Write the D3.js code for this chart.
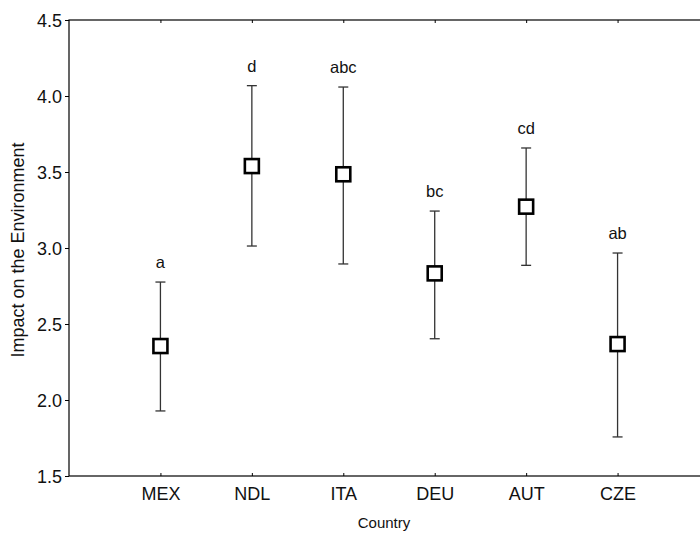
<!DOCTYPE html>
<html>
<head>
<meta charset="utf-8">
<script src="https://cdn.jsdelivr.net/npm/d3@7"></script>
<style>
  body { margin: 0; background: #fff; }
  text { font-family: "Liberation Sans", Arial, sans-serif; fill: #111; }
</style>
</head>
<body>
<div id="container"></div>
<script>
// Data
const countries = ['MEX', 'NDL', 'ITA', 'DEU', 'AUT', 'CZE'];
const means = [2.355, 3.539, 3.485, 2.833, 3.272, 2.368];
const upper = [2.776, 4.068, 4.059, 3.243, 3.658, 2.967];
const lower = [1.928, 3.013, 2.895, 2.403, 2.886, 1.757];
const letters = ['a', 'd', 'abc', 'bc', 'cd', 'ab'];
const yTicks = [1.5, 2.0, 2.5, 3.0, 3.5, 4.0, 4.5];

const data = countries.map((c, i) => ({
  country: c, mean: means[i], hi: upper[i], lo: lower[i], letter: letters[i]
}));

const width = 700, height = 536;
const mLeft = 69, mRight = 709, mTop = 20, mBottom = 476;

const svg = d3.select('#container').append('svg')
  .attr('width', width)
  .attr('height', height);

// Scales
const x = d3.scalePoint().domain(countries).range([mLeft, mRight]).padding(1);
const y = d3.scaleLinear().domain([1.5, 4.5]).range([mBottom, mTop]);

// Frame
svg.append('rect')
  .attr('x', mLeft).attr('y', mTop)
  .attr('width', mRight - mLeft).attr('height', mBottom - mTop)
  .attr('fill', 'none').attr('stroke', '#000').attr('stroke-width', 1.2);

// Left axis
svg.append('g')
  .attr('transform', `translate(${mLeft},0)`)
  .call(d3.axisLeft(y).tickValues(yTicks).tickFormat(d3.format('.1f')).tickSize(4).tickPadding(3))
  .call(g => g.select('.domain').remove())
  .call(g => g.selectAll('line').attr('stroke', '#000'))
  .call(g => g.selectAll('text').attr('font-size', 18).attr('dy', '0.36em'));

// Bottom axis (inward ticks)
svg.append('g')
  .attr('transform', `translate(0,${mBottom})`)
  .call(d3.axisBottom(x).tickSizeInner(-3).tickSizeOuter(0).tickPadding(11))
  .call(g => g.select('.domain').remove())
  .call(g => g.selectAll('line').attr('stroke', '#000'))
  .call(g => g.selectAll('text').attr('font-size', 18));

// Top axis ticks (inward)
svg.append('g')
  .attr('transform', `translate(0,${mTop})`)
  .call(d3.axisTop(x).tickSizeInner(-3).tickSizeOuter(0).tickFormat(''))
  .call(g => g.select('.domain').remove())
  .call(g => g.selectAll('line').attr('stroke', '#000'));

// Axis titles
svg.append('text')
  .attr('x', 384).attr('y', 528)
  .attr('text-anchor', 'middle')
  .attr('font-size', 15)
  .text('Country');

svg.append('text')
  .attr('transform', `translate(24,250) rotate(-90)`)
  .attr('text-anchor', 'middle')
  .attr('font-size', 18)
  .text('Impact on the Environment');

// Error bars
const bars = svg.append('g').attr('stroke', '#333').attr('stroke-width', 1.3);
bars.selectAll('.whisker').data(data).join('line')
  .attr('class', 'whisker')
  .attr('x1', d => x(d.country)).attr('x2', d => x(d.country))
  .attr('y1', d => y(d.hi)).attr('y2', d => y(d.lo));
bars.selectAll('.cap-hi').data(data).join('line')
  .attr('class', 'cap-hi')
  .attr('x1', d => x(d.country) - 5).attr('x2', d => x(d.country) + 5)
  .attr('y1', d => y(d.hi)).attr('y2', d => y(d.hi));
bars.selectAll('.cap-lo').data(data).join('line')
  .attr('class', 'cap-lo')
  .attr('x1', d => x(d.country) - 5).attr('x2', d => x(d.country) + 5)
  .attr('y1', d => y(d.lo)).attr('y2', d => y(d.lo));

// Mean markers
const s = 14;
svg.selectAll('.mean').data(data).join('rect')
  .attr('class', 'mean')
  .attr('x', d => x(d.country) - s / 2)
  .attr('y', d => y(d.mean) - s / 2)
  .attr('width', s).attr('height', s)
  .attr('fill', '#fff').attr('stroke', '#000').attr('stroke-width', 2.6);

// Letters
svg.selectAll('.letter').data(data).join('text')
  .attr('class', 'letter')
  .attr('x', d => x(d.country))
  .attr('y', d => y(d.hi) - 14)
  .attr('text-anchor', 'middle')
  .attr('font-size', 16.5)
  .text(d => d.letter);
</script>
</body>
</html>
